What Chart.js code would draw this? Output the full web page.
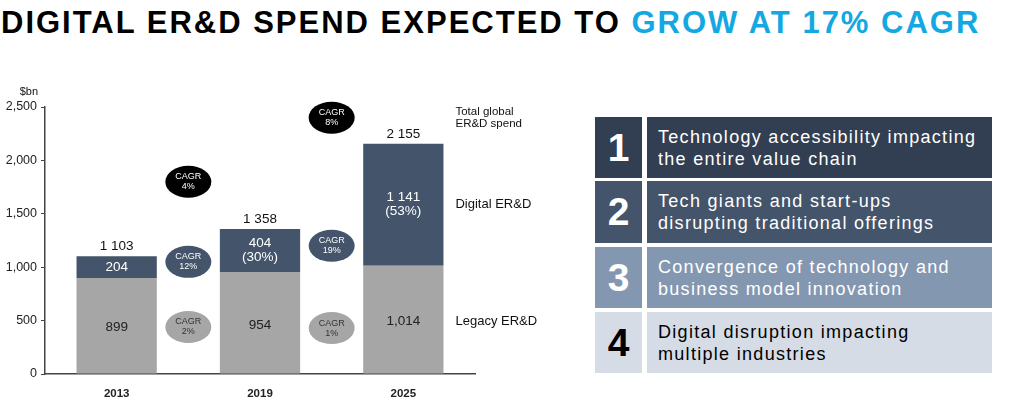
<!DOCTYPE html>
<html>
<head>
<meta charset="utf-8">
<script src="https://cdn.jsdelivr.net/npm/chart.js@4.4.1/dist/chart.umd.min.js"></script>
<style>
body { margin:0; width:1024px; height:402px; background:#fff; font-family:"Liberation Sans", Arial, sans-serif; overflow:hidden; position:relative; }
#title { position:absolute; left:1px; top:5px; font-size:31px; font-weight:bold; white-space:nowrap; color:#000; letter-spacing:2px; }
#title span { color:#14a8e3; }
#chartBox { position:absolute; left:0; top:80px; width:580px; height:322px; }
.row { position:absolute; left:595px; width:397px; height:61px; }
.num { position:absolute; left:0; top:0; width:47px; height:100%; font-size:39px; font-weight:bold; text-align:center; line-height:61px; }
.txt { position:absolute; left:52px; right:0; top:0; height:100%; padding-left:11px; font-size:18px; line-height:22px; letter-spacing:1.3px; display:flex; align-items:center; }
</style>
</head>
<body>
<div id="title">DIGITAL ER&amp;D SPEND EXPECTED TO <span>GROW AT 17% CAGR</span></div>
<div id="chartBox"><canvas id="spend"></canvas></div>

<div class="row" style="top:117px;color:#fff"><div class="num" style="background:#323e51">1</div><div class="txt" style="background:#323e51">Technology accessibility impacting<br>the entire value chain</div></div>
<div class="row" style="top:181px;color:#fff;height:62px"><div class="num" style="background:#44546a">2</div><div class="txt" style="background:#44546a">Tech giants and start-ups<br>disrupting traditional offerings</div></div>
<div class="row" style="top:247px;color:#fff"><div class="num" style="background:#8497b0">3</div><div class="txt" style="background:#8497b0">Convergence of technology and<br>business model innovation</div></div>
<div class="row" style="top:312px;color:#000"><div class="num" style="background:#d6dce5">4</div><div class="txt" style="background:#d6dce5">Digital disruption impacting<br>multiple industries</div></div>

<script>
// chart values
var years = ["2013", "2019", "2025"];
var legacy = [899, 954, 1014];
var digital = [204, 404, 1141];
var totals = [1103, 1358, 2155];
var digitalShare = ["", "(30%)", "(53%)"];

// CAGR bubbles, sitting between two years
var cagrTotal = ["4%", "8%"];
var cagrTotalAt = [1800, 2400];
var cagrDigital = ["12%", "19%"];
var cagrDigitalAt = [1050, 1200];
var cagrLegacy = ["2%", "1%"];
var cagrLegacyAt = [440, 430];

var digitalColor = '#44546a';
var legacyColor = '#a6a6a6';

function spaced(n) {
    return n.toLocaleString('en-US').replace(/,/g, ' ');
}

// draws the numbers on the bars, the CAGR bubbles and the side labels
var annotate = {
    id: 'annotate',
    afterDatasetsDraw: function(chart) {
        var c = chart.ctx;
        var x = chart.scales.x;
        var y = chart.scales.y;
        var legacyBars = chart.getDatasetMeta(0).data;
        var digitalBars = chart.getDatasetMeta(1).data;
        c.save();
        c.textAlign = 'center';
        c.textBaseline = 'middle';

        for (var i = 0; i < years.length; i++) {
            var lb = legacyBars[i];
            var db = digitalBars[i];
            // legacy value
            c.fillStyle = '#222';
            c.font = '13.5px "Liberation Sans", Arial';
            var lv = i == 2 ? legacy[i].toLocaleString('en-US') : spaced(legacy[i]);
            c.fillText(lv, lb.x, (lb.y + lb.base) / 2 + 2);
            // digital value
            c.fillStyle = '#fff';
            var mid = (db.y + db.base) / 2;
            if (digitalShare[i]) {
                c.fillText(spaced(digital[i]), db.x, mid - 7);
                c.fillText(digitalShare[i], db.x, mid + 7);
            } else {
                c.fillText(spaced(digital[i]), db.x, mid);
            }
            // total on top
            c.fillStyle = '#111';
            c.fillText(spaced(totals[i]), db.x, y.getPixelForValue(totals[i]) - 10);
        }

        function bubble(j, val, label, fill, ink) {
            var bx = (x.getPixelForValue(j) + x.getPixelForValue(j + 1)) / 2;
            var by = y.getPixelForValue(val);
            c.beginPath();
            c.ellipse(bx, by, 23, 16, 0, 0, Math.PI * 2);
            c.fillStyle = fill;
            c.fill();
            c.fillStyle = ink;
            c.font = '9px "Liberation Sans", Arial';
            c.fillText('CAGR', bx, by - 5);
            c.fillText(label, bx, by + 5);
        }
        for (var j = 0; j < cagrTotal.length; j++) {
            bubble(j, cagrTotalAt[j], cagrTotal[j], '#000', '#fff');
            bubble(j, cagrDigitalAt[j], cagrDigital[j], digitalColor, '#fff');
            bubble(j, cagrLegacyAt[j], cagrLegacy[j], legacyColor, '#333');
        }

        // series names to the right of the last bar
        var last = years.length - 1;
        var lx = digitalBars[last].x + digitalBars[last].width / 2 + 12;
        c.textAlign = 'left';
        c.fillStyle = '#111';
        c.font = '11.5px "Liberation Sans", Arial';
        var ty = y.getPixelForValue(cagrTotalAt[1]);
        c.fillText('Total global', lx, ty - 6);
        c.fillText('ER&D spend', lx, ty + 6);
        c.font = '13px "Liberation Sans", Arial';
        c.fillText('Digital ER&D', lx, (digitalBars[last].y + digitalBars[last].base) / 2);
        c.fillText('Legacy ER&D', lx, (legacyBars[last].y + legacyBars[last].base) / 2 + 2);

        // unit
        c.textAlign = 'right';
        c.font = '11px "Liberation Sans", Arial';
        c.fillText('$bn', chart.chartArea.left - 7, chart.chartArea.top - 15);
        c.restore();
    }
};

var ctx = document.getElementById('spend').getContext('2d');
var chart = new Chart(ctx, {
    type: 'bar',
    data: {
        labels: years,
        datasets: [{
            label: 'Legacy ER&D',
            data: legacy,
            backgroundColor: legacyColor,
            barPercentage: 0.56,
            categoryPercentage: 1
        }, {
            label: 'Digital ER&D',
            data: digital,
            backgroundColor: digitalColor,
            barPercentage: 0.56,
            categoryPercentage: 1
        }]
    },
    options: {
        responsive: true,
        maintainAspectRatio: false,
        animation: false,
        layout: { padding: { top: 27, right: 105, left: 0, bottom: 0 } },
        plugins: {
            legend: { display: false },
            tooltip: { enabled: false }
        },
        scales: {
            x: {
                stacked: true,
                grid: { display: false },
                border: { color: '#444', width: 1.5 },
                ticks: { color: '#222', font: { size: 11.5, weight: 'bold', family: '"Liberation Sans", Arial' }, padding: 5 },
                afterFit: function(s) { s.height = 28; }
            },
            y: {
                stacked: true,
                min: 0,
                max: 2500,
                grid: { drawOnChartArea: false, tickLength: 4, color: '#444' },
                border: { color: '#444', width: 1.5 },
                ticks: { stepSize: 500, color: '#222', padding: 4, font: { size: 12.5, family: '"Liberation Sans", Arial' } },
                afterFit: function(s) { s.width = 45; }
            }
        }
    },
    plugins: [annotate]
});
</script>
</body>
</html>
